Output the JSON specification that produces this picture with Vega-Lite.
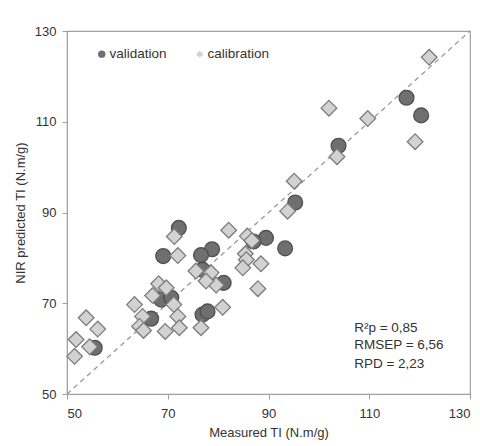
{
  "$schema": "https://vega.github.io/schema/vega-lite/v6.json",
  "width": 403,
  "height": 363,
  "autosize": {"type": "none"},
  "padding": {"left": 67, "top": 31, "right": 10, "bottom": 52},
  "background": "white",
  "datasets": {
    "pts": [
      {"set": "validation", "measured": 117.4, "predicted": 115.3},
      {"set": "validation", "measured": 120.3, "predicted": 111.4},
      {"set": "validation", "measured": 103.9, "predicted": 104.7},
      {"set": "validation", "measured": 95.3, "predicted": 92.2},
      {"set": "validation", "measured": 89.5, "predicted": 84.4},
      {"set": "validation", "measured": 93.3, "predicted": 82.1},
      {"set": "validation", "measured": 87.0, "predicted": 83.6},
      {"set": "validation", "measured": 78.8, "predicted": 81.9},
      {"set": "validation", "measured": 76.6, "predicted": 80.6},
      {"set": "validation", "measured": 72.2, "predicted": 86.6},
      {"set": "validation", "measured": 69.1, "predicted": 80.4},
      {"set": "validation", "measured": 81.1, "predicted": 74.5},
      {"set": "validation", "measured": 76.9, "predicted": 77.4},
      {"set": "validation", "measured": 68.7, "predicted": 70.8},
      {"set": "validation", "measured": 70.7, "predicted": 71.2},
      {"set": "validation", "measured": 66.7, "predicted": 66.6},
      {"set": "validation", "measured": 55.5, "predicted": 60.2},
      {"set": "validation", "measured": 76.9, "predicted": 67.5},
      {"set": "validation", "measured": 77.9, "predicted": 68.2},
      {"set": "calibration", "measured": 121.9, "predicted": 124.2},
      {"set": "calibration", "measured": 102.0, "predicted": 113.0},
      {"set": "calibration", "measured": 109.7, "predicted": 110.7},
      {"set": "calibration", "measured": 119.1, "predicted": 105.6},
      {"set": "calibration", "measured": 103.6, "predicted": 102.3},
      {"set": "calibration", "measured": 95.1, "predicted": 96.9},
      {"set": "calibration", "measured": 93.8, "predicted": 90.3},
      {"set": "calibration", "measured": 82.1, "predicted": 86.1},
      {"set": "calibration", "measured": 85.8, "predicted": 84.8},
      {"set": "calibration", "measured": 86.7, "predicted": 83.8},
      {"set": "calibration", "measured": 85.4, "predicted": 80.9},
      {"set": "calibration", "measured": 85.6, "predicted": 79.6},
      {"set": "calibration", "measured": 84.9, "predicted": 77.8},
      {"set": "calibration", "measured": 88.5, "predicted": 78.7},
      {"set": "calibration", "measured": 79.6, "predicted": 74.0},
      {"set": "calibration", "measured": 87.9, "predicted": 73.2},
      {"set": "calibration", "measured": 80.9, "predicted": 69.1},
      {"set": "calibration", "measured": 71.3, "predicted": 84.7},
      {"set": "calibration", "measured": 72.0, "predicted": 80.5},
      {"set": "calibration", "measured": 75.6, "predicted": 77.1},
      {"set": "calibration", "measured": 78.6, "predicted": 76.7},
      {"set": "calibration", "measured": 77.6, "predicted": 74.9},
      {"set": "calibration", "measured": 68.2, "predicted": 74.3},
      {"set": "calibration", "measured": 69.7, "predicted": 73.4},
      {"set": "calibration", "measured": 67.0, "predicted": 71.7},
      {"set": "calibration", "measured": 71.2, "predicted": 69.7},
      {"set": "calibration", "measured": 72.0, "predicted": 67.1},
      {"set": "calibration", "measured": 72.3, "predicted": 64.6},
      {"set": "calibration", "measured": 69.5, "predicted": 63.8},
      {"set": "calibration", "measured": 76.6, "predicted": 64.6},
      {"set": "calibration", "measured": 63.4, "predicted": 69.7},
      {"set": "calibration", "measured": 65.0, "predicted": 67.1},
      {"set": "calibration", "measured": 64.4, "predicted": 64.9},
      {"set": "calibration", "measured": 65.2, "predicted": 64.0},
      {"set": "calibration", "measured": 53.8, "predicted": 66.8},
      {"set": "calibration", "measured": 56.1, "predicted": 64.3},
      {"set": "calibration", "measured": 51.8, "predicted": 62.0},
      {"set": "calibration", "measured": 54.5, "predicted": 60.4},
      {"set": "calibration", "measured": 51.5, "predicted": 58.3}
    ]
  },
  "config": {
    "font": "Liberation Sans",
    "view": {"stroke": "#a0a0a0", "strokeWidth": 1.2},
    "axis": {
      "domainColor": "#a0a0a0",
      "tickColor": "#a0a0a0",
      "tickSize": 5,
      "grid": false,
      "labelFont": "Liberation Sans",
      "labelFontSize": 13,
      "labelColor": "#333333",
      "titleFont": "Liberation Sans",
      "titleFontSize": 13,
      "titleFontWeight": "normal",
      "titleColor": "#333333"
    },
    "legend": {
      "labelFontSize": 13.5,
      "labelColor": "#333333",
      "labelFont": "Liberation Sans",
      "symbolSize": 55,
      "symbolStrokeColor": "#666666",
      "symbolStrokeWidth": 1,
      "labelOffset": 1,
      "columnPadding": 26
    }
  },
  "layer": [
    {
      "data": {"values": [{"x": 50, "y": 50, "x2": 130, "y2": 130}]},
      "mark": {"type": "rule", "color": "#999999", "strokeDash": [5, 4], "strokeWidth": 1.3},
      "encoding": {
        "x": {"field": "x", "type": "quantitative", "scale": {"domain": [50, 130], "nice": false, "zero": false},
              "axis": {"values": [50, 70, 90, 110, 130], "title": "Measured TI (N.m/g)", "labelPadding": 8, "titlePadding": 6}},
        "y": {"field": "y", "type": "quantitative", "scale": {"domain": [50, 130], "nice": false, "zero": false},
              "axis": {"values": [50, 70, 90, 110, 130], "title": "NIR predicted TI (N.m/g)", "labelPadding": 6, "titlePadding": 7}},
        "x2": {"field": "x2"},
        "y2": {"field": "y2"}
      }
    },
    {
      "data": {"name": "pts"},
      "transform": [{"filter": "datum.set === 'validation'"}],
      "mark": {"type": "point", "filled": true, "opacity": 1, "strokeWidth": 1.3, "stroke": "#505050", "size": 220},
      "encoding": {
        "x": {"field": "measured", "type": "quantitative"},
        "y": {"field": "predicted", "type": "quantitative"},
        "fill": {"field": "set", "type": "nominal",
                 "scale": {"domain": ["validation", "calibration"], "range": ["#6f6f6f", "#d2d2d2"]},
                 "legend": {"title": null, "orient": "none", "legendX": 28, "legendY": 16, "direction": "horizontal"}},
        "shape": {"field": "set", "type": "nominal",
                  "scale": {"domain": ["validation", "calibration"], "range": ["circle", "diamond"]},
                  "legend": {"title": null, "orient": "none", "legendX": 28, "legendY": 16, "direction": "horizontal"}}
      }
    },
    {
      "data": {"name": "pts"},
      "transform": [{"filter": "datum.set === 'calibration'"}],
      "mark": {"type": "point", "filled": true, "opacity": 1, "strokeWidth": 1.3, "stroke": "#7c7c7c", "size": 245},
      "encoding": {
        "x": {"field": "measured", "type": "quantitative"},
        "y": {"field": "predicted", "type": "quantitative"},
        "fill": {"field": "set", "type": "nominal",
                 "scale": {"domain": ["validation", "calibration"], "range": ["#6f6f6f", "#d2d2d2"]},
                 "legend": {"title": null, "orient": "none", "legendX": 28, "legendY": 16, "direction": "horizontal"}},
        "shape": {"field": "set", "type": "nominal",
                  "scale": {"domain": ["validation", "calibration"], "range": ["circle", "diamond"]},
                  "legend": {"title": null, "orient": "none", "legendX": 28, "legendY": 16, "direction": "horizontal"}}
      }
    },
    {
      "data": {"values": [
        {"x": 107.0, "y": 64.6, "label": "R²p = 0,85"},
        {"x": 107.0, "y": 60.7, "label": "RMSEP = 6,56"},
        {"x": 107.0, "y": 56.7, "label": "RPD = 2,23"}
      ]},
      "mark": {"type": "text", "align": "left", "baseline": "middle", "fontSize": 13.5, "color": "#333333", "font": "Liberation Sans"},
      "encoding": {
        "x": {"field": "x", "type": "quantitative"},
        "y": {"field": "y", "type": "quantitative"},
        "text": {"field": "label"}
      }
    }
  ]
}
